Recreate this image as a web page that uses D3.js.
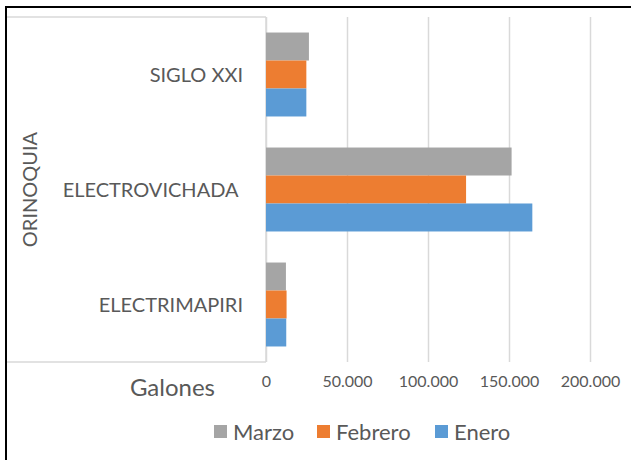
<!DOCTYPE html>
<html>
<head>
<meta charset="utf-8">
<script src="https://cdn.jsdelivr.net/npm/d3@7"></script>
<style>
  body { margin: 0; background: #fff; }
  text { font-family: Lato, "Open Sans", sans-serif; fill: #595959; }
</style>
</head>
<body>
<div class="bar-chart"></div>
<script>
// datos
const categories = ['SIGLO XXI', 'ELECTROVICHADA ', 'ELECTRIMAPIRI'];
const groupLabel = 'ORINOQUIA';
const seriesNames = ['Marzo', 'Febrero', 'Enero'];
const enero = [24900, 164400, 12500];
const febrero = [24900, 123500, 12700];
const marzo = [26500, 151600, 12300];
const xTicks = [0, 50000, 100000, 150000, 200000];
const axisTitle = 'Galones';
const colors = { Enero: '#5B9BD5', Febrero: '#ED7D31', Marzo: '#A5A5A5' };

const values = { Enero: enero, Febrero: febrero, Marzo: marzo };

const svg_width = 631;
const svg_height = 460;
const chart_margin = { top: 17, right: 41, bottom: 98, left: 266 };
const chart_width = svg_width - chart_margin.left - chart_margin.right;
const chart_height = svg_height - chart_margin.top - chart_margin.bottom;

const svg = d3.select('.bar-chart').append('svg')
  .attr('width', svg_width).attr('height', svg_height);

// marco negro (solo arriba e izquierda, imagen recortada)
svg.append('line').attr('x1', 5).attr('x2', svg_width).attr('y1', 7).attr('y2', 7)
  .style('stroke', '#000').style('stroke-width', 2);
svg.append('line').attr('x1', 6).attr('x2', 6).attr('y1', 6).attr('y2', svg_height)
  .style('stroke', '#000').style('stroke-width', 2);

const g = svg.append('g')
  .attr('transform', `translate(${chart_margin.left},${chart_margin.top})`);

const xScale = d3.scaleLinear().domain([0, 200000]).range([0, chart_width]);
const yScale = d3.scaleBand().domain(categories).range([0, chart_height])
  .paddingInner(0.27).paddingOuter(0.135);
const ySub = d3.scaleBand().domain(seriesNames).range([0, yScale.bandwidth()]);

// formato con punto de miles
const locale = d3.formatLocale({ decimal: ',', thousands: '.', grouping: [3], currency: ['$', ''] });
const fmt = locale.format(',');

// lineas de cuadricula
const xAxis = d3.axisBottom(xScale).tickValues(xTicks).tickFormat(fmt)
  .tickSizeInner(-chart_height).tickSizeOuter(0).tickPadding(14);
const xAxisDraw = g.append('g').attr('class', 'x axis')
  .attr('transform', `translate(0,${chart_height})`)
  .call(xAxis);
xAxisDraw.select('.domain').remove();
xAxisDraw.selectAll('.tick line').style('stroke', '#d9d9d9').style('stroke-width', 1.5);
xAxisDraw.selectAll('.tick text')
  .style('font-size', '16px').style('fill', '#595959')
  .attr('font-family', null);

// caja del eje de categorias
const boxLeft = 7 - chart_margin.left;
g.append('line').attr('x1', boxLeft).attr('x2', 0).attr('y1', 0).attr('y2', 0)
  .style('stroke', '#d9d9d9').style('stroke-width', 1.5);
g.append('line').attr('x1', boxLeft).attr('x2', 0).attr('y1', chart_height).attr('y2', chart_height)
  .style('stroke', '#d9d9d9').style('stroke-width', 1.5);
g.append('line').attr('x1', 0).attr('x2', 0).attr('y1', 0).attr('y2', chart_height)
  .style('stroke', '#d9d9d9').style('stroke-width', 1.5);

// barras
const rows = categories.map((c, i) => ({ cat: c, vals: seriesNames.map(s => ({ s, v: values[s][i] })) }));
const groups = g.selectAll('.cat').data(rows).enter().append('g')
  .attr('class', 'cat')
  .attr('transform', d => `translate(0,${yScale(d.cat)})`);
groups.selectAll('rect').data(d => d.vals).enter().append('rect')
  .attr('x', xScale(0))
  .attr('y', d => ySub(d.s))
  .attr('width', d => xScale(d.v) - xScale(0))
  .attr('height', ySub.bandwidth())
  .style('fill', d => colors[d.s]);

// etiquetas de categoria
g.selectAll('.cat-label').data(categories).enter().append('text')
  .attr('class', 'cat-label')
  .attr('x', -23)
  .attr('y', d => yScale(d) + yScale.bandwidth() / 2)
  .attr('dy', '0.35em')
  .style('text-anchor', 'end')
  .style('white-space', 'pre')
  .style('font-size', '20px')
  .text(d => d);

// etiqueta del grupo
g.append('text')
  .attr('transform', `translate(${boxLeft + 23},${chart_height / 2}) rotate(-90)`)
  .attr('dy', '0.35em')
  .style('text-anchor', 'middle')
  .style('font-size', '20px')
  .text(groupLabel);

// titulo del eje
g.append('text')
  .attr('x', -51)
  .attr('y', chart_height + 26)
  .attr('dy', '0.35em')
  .style('text-anchor', 'end')
  .style('font-size', '24px')
  .text(axisTitle);

// leyenda
const legendX = [214, 317, 435];
const legend = svg.append('g').attr('class', 'legend')
  .selectAll('g').data(seriesNames).enter().append('g')
  .attr('transform', (d, i) => `translate(${legendX[i]},432)`);
legend.append('rect').attr('x', 0).attr('y', -7).attr('width', 13).attr('height', 13)
  .style('fill', d => colors[d]);
legend.append('text').attr('x', 19).attr('dy', '0.35em')
  .style('font-size', '22px').text(d => d);
</script>
</body>
</html>
